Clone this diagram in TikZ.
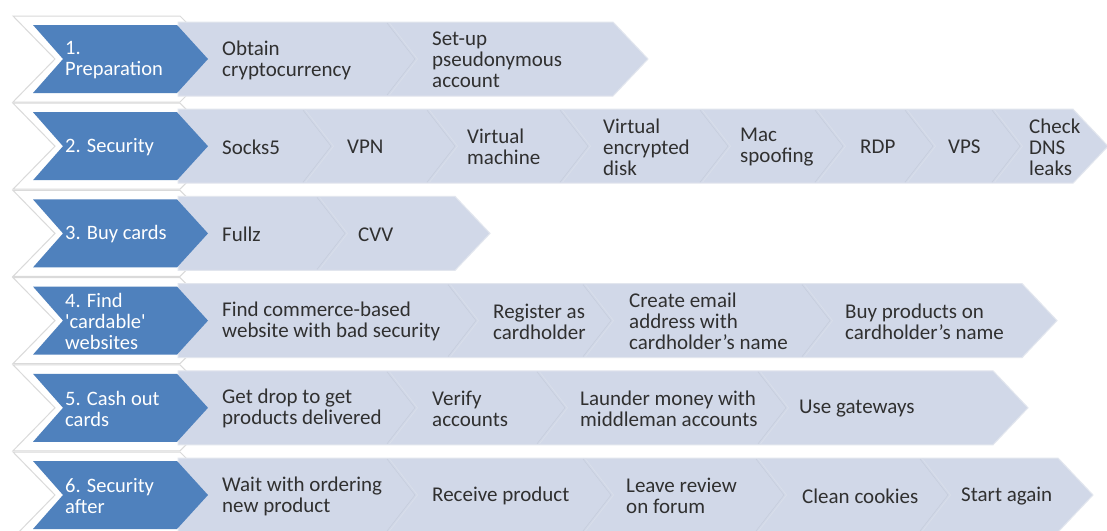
\documentclass[tikz,border=0pt]{standalone}
\usepackage{fontspec}
\setmainfont{Carlito}
\usepackage{textcomp}
\definecolor{cblue}{RGB}{79,129,189}
\definecolor{cbar}{RGB}{209,216,232}
\definecolor{cbarline}{RGB}{226,230,238}
\definecolor{cdivdark}{RGB}{199,206,221}
\definecolor{cdivlight}{RGB}{216,222,234}
\definecolor{coutl}{RGB}{218,218,218}
\definecolor{ctext}{RGB}{48,48,48}
\newcommand{\bgrow}[2]{%
  \draw[outl] (13,#1-43) -- (180,#1-43) -- (223,#1) -- (180,#1+43) -- (13,#1+43) -- (55,#1) -- cycle;
  \draw[barshape] (178,#1-37) -- (#2,#1-37) -- (#2+35,#1) -- (#2,#1+37) -- (178,#1+37) -- cycle;
  \fill[bluefill] (33,#1-34) -- (177,#1-34) -- (208,#1) -- (177,#1+34) -- (33,#1+34) -- (63,#1) -- cycle;
}
\newcommand{\divln}[2]{%
  \draw[divd] (#1,#2-36) -- (#1+28,#2) -- (#1,#2+36);
  \draw[divl] (#1+2.5,#2-36) -- (#1+30.5,#2) -- (#1+2.5,#2+36);
}
\tikzset{
  outl/.style={draw=coutl, fill=white, line width=1pt},
  barshape/.style={draw=cbarline, fill=cbar, line width=1pt},
  bluefill/.style={fill=cblue},
  divd/.style={draw=cdivdark, line width=0.6pt},
  divl/.style={draw=cdivlight, line width=0.8pt},
  steptext/.style={anchor=west, align=left, inner sep=0pt, text=ctext, font=\fontsize{21}{21}\selectfont},
  headtext/.style={anchor=west, align=left, inner sep=0pt, text=white, font=\fontsize{20.5}{21}\selectfont}
}
\begin{document}
\begin{tikzpicture}[x=1pt,y=-1pt]
\useasboundingbox (0,0) rectangle (1107,530);
\clip (0,0) rectangle (1107,530);
\fill[white] (0,0) rectangle (1107,530);
% row 1
\bgrow{59}{613}
\divln{387}{59}
\node[headtext] (h1) at (65,60) {1.\\Preparation};
\node[steptext] (s11) at (222,60) {Obtain\\cryptocurrency};
\node[steptext] (s12) at (432,60) {Set-up\\pseudonymous\\account};
% row 2
\bgrow{146.2}{1073}
\divln{303}{146.2}
\divln{427}{146.2}
\divln{560}{146.2}
\divln{700}{146.2}
\divln{815}{146.2}
\divln{905}{146.2}
\divln{992}{146.2}
\node[headtext] (h2) at (65,147.2) {2. Security};
\node[steptext] (s21) at (222,147.2) {Socks5};
\node[steptext] (s22) at (347,147.2) {VPN};
\node[steptext] (s23) at (467,147.2) {Virtual\\machine};
\node[steptext] (s24) at (603,147.2) {Virtual\\encrypted\\disk};
\node[steptext] (s25) at (740,147.2) {Mac\\spoofing};
\node[steptext] (s26) at (860,147.2) {RDP};
\node[steptext] (s27) at (948,147.2) {VPS};
\node[steptext] (s28) at (1029,147.2) {Check\\DNS\\leaks};
% row 3
\bgrow{233.4}{455}
\divln{317}{233.4}
\node[headtext] (h3) at (65,234.4) {3. Buy cards};
\node[steptext] (s31) at (222,234.4) {Fullz};
\node[steptext] (s32) at (358,234.4) {CVV};
% row 4
\bgrow{320.6}{1022}
\divln{448}{320.6}
\divln{583}{320.6}
\divln{802}{320.6}
\node[headtext] (h4) at (65,321.6) {4. Find\\\textquotesingle cardable\textquotesingle\\websites};
\node[steptext] (s41) at (222,321.6) {Find commerce-based\\website with bad security};
\node[steptext] (s42) at (493,321.6) {Register as\\cardholder};
\node[steptext] (s43) at (629,321.6) {Create email\\address with\\cardholder’s name};
\node[steptext] (s44) at (845,321.6) {Buy products on\\cardholder’s name};
% row 5
\bgrow{407.8}{993}
\divln{387}{407.8}
\divln{537}{407.8}
\divln{758}{407.8}
\node[headtext] (h5) at (65,408.8) {5. Cash out\\cards};
\node[steptext] (s51) at (222,408.8) {Get drop to get\\products delivered};
\node[steptext] (s52) at (432,408.8) {Verify\\accounts};
\node[steptext] (s53) at (580,408.8) {Launder money with\\middleman accounts};
\node[steptext] (s54) at (799,408.8) {Use gateways};
% row 6
\bgrow{495}{1058}
\divln{387}{495}
\divln{583}{495}
\divln{756}{495}
\divln{920}{495}
\node[headtext] (h6) at (65,496) {6. Security\\after};
\node[steptext] (s61) at (222,496) {Wait with ordering\\new product};
\node[steptext] (s62) at (432,496) {Receive product};
\node[steptext] (s63) at (626,496) {Leave review\\on forum};
\node[steptext] (s64) at (802,496) {Clean cookies};
\node[steptext] (s65) at (961,496) {Start again};
\end{tikzpicture}
\end{document}
